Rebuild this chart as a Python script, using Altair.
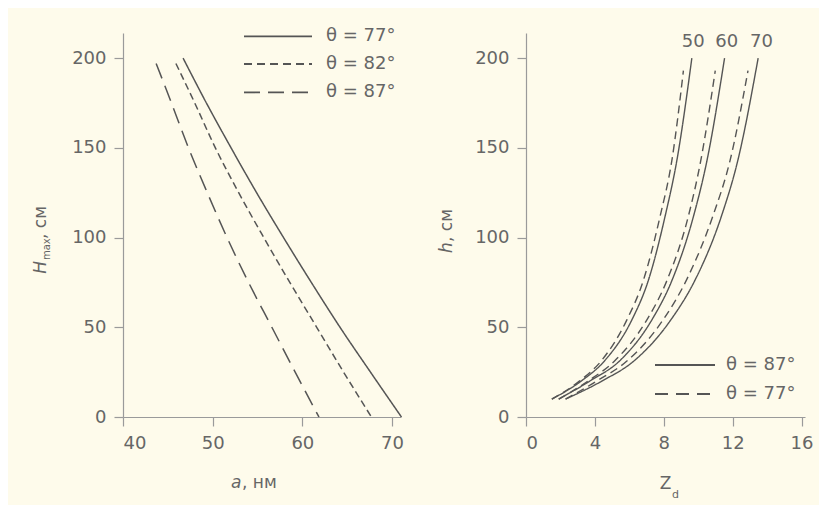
import altair as alt
import pandas as pd

# ---------------- data ----------------
# Left panel: H_max (cm) vs a (nm) for three zenith angles
H_77 = [0, 25, 50, 75, 100, 125, 150, 175, 200]
A_77 = [71.05, 67.6, 64.2, 61.0, 57.9, 54.9, 52.05, 49.3, 46.7]
H_82 = [0, 25, 50, 75, 100, 125, 150, 175, 197]
A_82 = [67.7, 64.6, 61.6, 58.6, 55.7, 52.9, 50.3, 48.0, 45.9]
H_87 = [0, 25, 50, 75, 100, 125, 150, 175, 197]
A_87 = [61.85, 59.2, 56.6, 54.0, 51.6, 49.4, 47.3, 45.4, 43.7]
LEFT_THETA = ["77", "82", "87"]
LEFT_LEGEND = ["θ = 77°", "θ = 82°", "θ = 87°"]

# Right panel: h (cm) vs Z_d, for a = 50, 60, 70 and theta = 87 (solid) / 77 (dashed)
H_SOLID = [10, 20, 31.5, 54, 76, 112, 143, 200]
H_DASHED = [10, 20, 31.5, 54, 76, 112, 143, 193]
Z_87_50 = [1.5, 3.2, 4.58, 6.14, 7.1, 8.08, 8.76, 9.63]
Z_77_50 = [1.5, 3.1, 4.39, 5.85, 6.81, 7.79, 8.47, 9.14]
Z_87_60 = [1.9, 3.7, 5.46, 7.3, 8.47, 9.73, 10.51, 11.53]
Z_77_60 = [1.9, 3.6, 5.17, 7.01, 8.18, 9.43, 10.15, 10.99]
Z_87_70 = [2.3, 4.4, 6.3, 8.4, 9.8, 11.35, 12.3, 13.48]
Z_77_70 = [2.3, 4.1, 5.9, 7.95, 9.3, 10.85, 11.85, 12.89]
CURVE_LABELS = ["50", "60", "70"]
CURVE_LABEL_Z = [9.71, 11.66, 13.67]
CURVE_LABEL_H = [209, 209, 209]
RIGHT_THETA = ["r87", "r77"]
RIGHT_LEGEND = ["θ = 87°", "θ = 77°"]

LEFT_X_TICKS = [40, 50, 60, 70]
RIGHT_X_TICKS = [0, 4, 8, 12, 16]
Y_TICKS = [0, 50, 100, 150, 200]

# ---------------- style ----------------
LINE = "#555555"
AXIS = "#9a9a9a"
TEXT = "#666666"
BG = "#FEFBEB"
FONT = "DejaVu Sans"
LFS = 18
W, HGT = 278, 384

# ---------------- left panel ----------------
rows = []
for th, hs, vs in [("77", H_77, A_77), ("82", H_82, A_82), ("87", H_87, A_87)]:
    for h, v in zip(hs, vs):
        rows.append({"theta": th, "H": h, "a": v})
df_left = pd.DataFrame(rows)

xl = alt.X("a:Q", scale=alt.Scale(domain=[40, 71], nice=False, zero=False),
           axis=alt.Axis(values=LEFT_X_TICKS, title=None))
yl = alt.Y("H:Q", scale=alt.Scale(domain=[0, 214], nice=False),
           axis=alt.Axis(values=Y_TICKS, title=None))

left_lines = alt.Chart(df_left).mark_line(
    interpolate="monotone", strokeWidth=1.5, color=LINE
).encode(
    x=xl, y=yl, detail="theta:N", order="a:Q",
    strokeDash=alt.StrokeDash("theta:N", legend=None,
                              scale=alt.Scale(domain=LEFT_THETA,
                                              range=[[1, 0], [7, 4], [16, 8]])),
)

left_layers = [left_lines]
leg_y = [3.4, 31, 59.4]
leg_dash = [None, [8, 5], [16, 8]]
for i in range(3):
    kw = {"strokeWidth": 1.8, "color": LINE}
    if leg_dash[i] is not None:
        kw["strokeDash"] = leg_dash[i]
    left_layers.append(
        alt.Chart(pd.DataFrame({"t": [LEFT_LEGEND[i]]})).mark_rule(**kw).encode(
            x=alt.value(121), x2=alt.value(189), y=alt.value(leg_y[i]))
    )
    left_layers.append(
        alt.Chart(pd.DataFrame({"t": [LEFT_LEGEND[i]]})).mark_text(
            align="left", baseline="middle", fontSize=LFS, color=TEXT, font=FONT
        ).encode(x=alt.value(203), y=alt.value(leg_y[i]), text="t:N")
    )


def txt(s, x, y, size=18, italic=False, angle=0):
    kw = dict(align="left", baseline="alphabetic", fontSize=size, color=TEXT, font=FONT)
    if italic:
        kw["fontStyle"] = "italic"
    if angle:
        kw["angle"] = angle
    return alt.Chart(pd.DataFrame({"t": [s]})).mark_text(**kw).encode(
        x=alt.value(x), y=alt.value(y), text="t:N")


left_layers += [
    txt("H", -77, 240.7, 17, True, 270),
    txt("max", -73, 227, 10, False, 270),
    txt(", см", -77, 206, 17, False, 270),
    txt("a", 108, 454.7, 17, True),
    txt(", нм", 119, 454.7, 17),
]

left = alt.layer(*left_layers).properties(width=W, height=HGT)

# ---------------- right panel ----------------
rows = []
for sid, th, hs, zs in [
    ("87_50", "r87", H_SOLID, Z_87_50), ("77_50", "r77", H_DASHED, Z_77_50),
    ("87_60", "r87", H_SOLID, Z_87_60), ("77_60", "r77", H_DASHED, Z_77_60),
    ("87_70", "r87", H_SOLID, Z_87_70), ("77_70", "r77", H_DASHED, Z_77_70),
]:
    for h, z in zip(hs, zs):
        rows.append({"sid": sid, "theta": th, "h": h, "Z": z})
df_right = pd.DataFrame(rows)

xr = alt.X("Z:Q", scale=alt.Scale(domain=[0, 16.2], nice=False),
           axis=alt.Axis(values=RIGHT_X_TICKS, title=None))
yr = alt.Y("h:Q", scale=alt.Scale(domain=[0, 214], nice=False),
           axis=alt.Axis(values=Y_TICKS, title=None))

right_lines = alt.Chart(df_right).mark_line(
    interpolate="monotone", strokeWidth=1.4, color=LINE
).encode(
    x=xr, y=yr, detail="sid:N", order="Z:Q",
    strokeDash=alt.StrokeDash("theta:N", legend=None,
                              scale=alt.Scale(domain=RIGHT_THETA,
                                              range=[[1, 0], [8, 5]])),
)

df_lab = pd.DataFrame({"Z": CURVE_LABEL_Z, "h": CURVE_LABEL_H, "t": CURVE_LABELS})
right_labels = alt.Chart(df_lab).mark_text(
    align="center", baseline="middle", fontSize=LFS, color=TEXT, font=FONT
).encode(x="Z:Q", y="h:Q", text="t:N")

right_layers = [right_lines, right_labels]
rleg_y = [332, 361]
rleg_dash = [None, [13, 8]]
for i in range(2):
    kw = {"strokeWidth": 1.8, "color": LINE}
    if rleg_dash[i] is not None:
        kw["strokeDash"] = rleg_dash[i]
    right_layers.append(
        alt.Chart(pd.DataFrame({"t": [RIGHT_LEGEND[i]]})).mark_rule(**kw).encode(
            x=alt.value(129), x2=alt.value(189), y=alt.value(rleg_y[i]))
    )
    right_layers.append(
        alt.Chart(pd.DataFrame({"t": [RIGHT_LEGEND[i]]})).mark_text(
            align="left", baseline="middle", fontSize=LFS, color=TEXT, font=FONT
        ).encode(x=alt.value(200), y=alt.value(rleg_y[i]), text="t:N")
    )

right_layers += [
    txt("h", -74.3, 220, 17, True, 270),
    txt(", см", -74.3, 209, 17, False, 270),
    txt("Z", 133.7, 455.7, 17),
    txt("d", 146, 465, 11),
]

right = alt.layer(*right_layers).properties(width=W + 1, height=HGT)

chart = alt.hconcat(left, right, spacing=32).resolve_scale(
    strokeDash="independent"
).properties(
    padding={"left": 24, "top": 19, "right": 5, "bottom": 5},
    background=BG,
).configure_view(stroke=None).configure_axis(
    grid=False,
    domainColor=AXIS,
    tickColor=AXIS,
    domainWidth=1.2,
    tickWidth=1.2,
    tickSize=9,
    labelFontSize=LFS,
    labelColor=TEXT,
    labelFont=FONT,
    labelPadding=8,
)

chart.save("out.html", embed_options={"renderer": "svg", "actions": False})
